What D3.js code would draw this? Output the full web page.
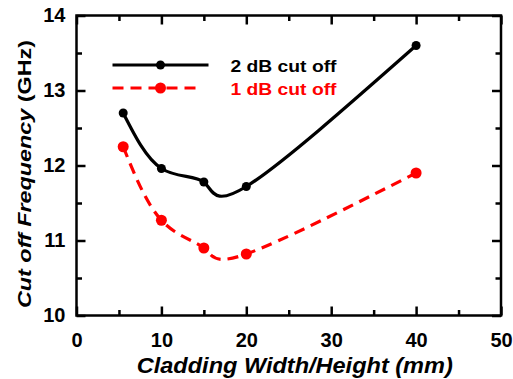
<!DOCTYPE html>
<html>
<head>
<meta charset="utf-8">
<script src="https://cdn.jsdelivr.net/npm/d3@7"></script>
<style>
  body { margin: 0; background: #fff; }
  text { font-family: "Liberation Sans", Arial, sans-serif; font-weight: bold; }
</style>
</head>
<body>
<div class="chart"></div>
<script>
// cladding size (mm) and cut off frequency (GHz)
const widths = [5.5, 10, 15, 20, 40];
const cut2dB = [12.7, 11.96, 11.78, 11.72, 13.6];
const cut1dB = [12.25, 11.27, 10.9, 10.82, 11.9];
const xTicks = [0, 10, 20, 30, 40, 50];
const yTicks = [10, 11, 12, 13, 14];

const W = 513, H = 379;
const margin = {top: 15.5, right: 12, bottom: 63.5, left: 76.5},
      width = W - margin.left - margin.right,
      height = H - margin.top - margin.bottom;

const svg = d3.select(".chart").append("svg")
    .attr("width", W)
    .attr("height", H)
    .append("g")
    .attr("transform", "translate(" + margin.left + "," + margin.top + ")");

const x = d3.scaleLinear().domain([0, 50]).range([0, width]);
const y = d3.scaleLinear().domain([10, 14]).range([height, 0]);

const series = [
    {label: "2 dB cut off", values: cut2dB, color: "#000", dash: null, r: 4.5},
    {label: "1 dB cut off", values: cut1dB, color: "#ff0000", dash: "11,7", r: 5.5}
];

const line = d3.line()
    .x(d => x(d[0]))
    .y(d => y(d[1]))
    .curve(d3.curveNatural);

series.forEach(s => {
    const pts = widths.map((w, i) => [w, s.values[i]]);
    svg.append("path")
        .datum(pts)
        .attr("d", line)
        .attr("fill", "none")
        .attr("stroke", s.color)
        .attr("stroke-width", 3.2)
        .attr("stroke-dasharray", s.dash);
    svg.append("g")
        .selectAll("circle")
        .data(pts)
        .enter().append("circle")
        .attr("cx", d => x(d[0]))
        .attr("cy", d => y(d[1]))
        .attr("r", s.r)
        .attr("fill", s.color);
});

// inward ticks, mirrored on all four sides
const major = 9, minor = 5.5;
const axisB = d3.axisBottom(x).tickValues(xTicks).tickSize(-major).tickPadding(17.5).tickFormat(d3.format("d"));
const axisT = d3.axisTop(x).tickValues(xTicks).tickSize(-major).tickFormat("");
const axisL = d3.axisLeft(y).tickValues(yTicks).tickSize(-major).tickPadding(11).tickFormat(d3.format("d"));
const axisR = d3.axisRight(y).tickValues(yTicks).tickSize(-major).tickFormat("");
const xMinor = d3.range(5, 50, 10), yMinor = d3.range(10.5, 14, 1);

const styleAxis = g => {
    g.select(".domain").remove();
    g.selectAll(".tick line").attr("stroke", "#000").attr("stroke-width", 2.5);
    g.selectAll(".tick text").attr("fill", "#000").style("font-size", "20px");
};

svg.append("g").attr("transform", "translate(0," + height + ")").call(axisB).call(styleAxis);
svg.append("g").call(axisT).call(styleAxis);
svg.append("g").call(axisL).call(styleAxis);
svg.append("g").attr("transform", "translate(" + width + ",0)").call(axisR).call(styleAxis);

svg.append("g").attr("transform", "translate(0," + height + ")")
    .call(d3.axisBottom(x).tickValues(xMinor).tickSize(-minor).tickFormat("")).call(styleAxis);
svg.append("g")
    .call(d3.axisTop(x).tickValues(xMinor).tickSize(-minor).tickFormat("")).call(styleAxis);
svg.append("g")
    .call(d3.axisLeft(y).tickValues(yMinor).tickSize(-minor).tickFormat("")).call(styleAxis);
svg.append("g").attr("transform", "translate(" + width + ",0)")
    .call(d3.axisRight(y).tickValues(yMinor).tickSize(-minor).tickFormat("")).call(styleAxis);

svg.append("rect")
    .attr("width", width)
    .attr("height", height)
    .attr("fill", "none")
    .attr("stroke", "#000")
    .attr("stroke-width", 2.5);

// axis titles
svg.append("text")
    .attr("x", width / 2 + 6)
    .attr("y", height + 57.5)
    .attr("text-anchor", "middle")
    .attr("textLength", 316)
    .attr("lengthAdjust", "spacingAndGlyphs")
    .style("font-size", "22px")
    .style("font-style", "italic")
    .text("Cladding Width/Height (mm)");

const yt = svg.append("text")
    .attr("transform", "translate(-45.5," + (174 - margin.top) + ") rotate(-90)")
    .attr("text-anchor", "middle")
    .attr("textLength", 268)
    .attr("lengthAdjust", "spacingAndGlyphs")
    .style("font-size", "18.5px");
yt.append("tspan").style("font-style", "italic").text("Cut off Frequency ");
yt.append("tspan").text("(GHz)");

// legend
const legend = svg.append("g").attr("transform", "translate(36,49.5)");
series.forEach((s, i) => {
    const g = legend.append("g").attr("transform", "translate(0," + (i * 23) + ")");
    g.append("line")
        .attr("x1", 0).attr("x2", s.dash ? 87 : 96)
        .attr("stroke", s.color)
        .attr("stroke-width", 3.2)
        .attr("stroke-dasharray", s.dash);
    g.append("circle").attr("cx", 48).attr("r", s.r).attr("fill", s.color);
    g.append("text")
        .attr("x", 118)
        .attr("y", 6.5)
        .attr("fill", s.color)
        .attr("textLength", 106)
        .attr("lengthAdjust", "spacingAndGlyphs")
        .style("font-size", "17px")
        .text(s.label);
});
</script>
</body>
</html>
